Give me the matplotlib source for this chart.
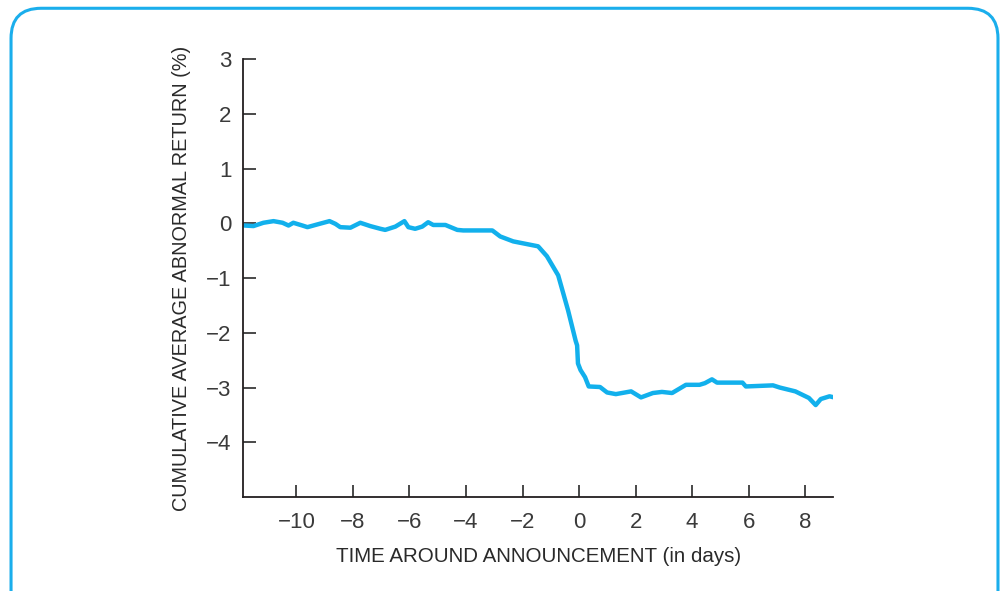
import matplotlib
matplotlib.use("Agg")
import matplotlib.pyplot as plt
from matplotlib.patches import FancyBboxPatch

plt.rcParams['font.family'] = ['Liberation Sans', 'DejaVu Sans']

# cumulative average abnormal return (%)
days = [-11.84, -11.52, -11.17, -10.81, -10.49, -10.28, -10.11, -9.79, -9.61,
        -9.26, -8.83, -8.62, -8.45, -8.09, -7.74, -7.39, -7.03, -6.86, -6.50,
        -6.18, -6.04, -5.80, -5.55, -5.34, -5.16, -4.73, -4.31, -4.10, -3.07,
        -2.79, -2.33, -1.45, -1.14, -0.74, -0.39, -0.12, -0.07, -0.04, 0.05,
        0.21, 0.34, 0.74, 0.99, 1.30, 1.84, 2.19, 2.61, 2.93, 3.29, 3.78, 4.26,
        4.45, 4.70, 4.88, 5.78, 5.90, 6.86, 7.10, 7.65, 8.13, 8.37, 8.55, 8.86,
        9.02]
car = [-0.04, -0.05, 0.01, 0.04, 0.01, -0.04, 0.01, -0.04, -0.07,
       -0.02, 0.04, -0.01, -0.07, -0.08, 0.01, -0.05, -0.10, -0.12, -0.06,
       0.04, -0.07, -0.10, -0.06, 0.02, -0.03, -0.03, -0.12, -0.13, -0.13,
       -0.24, -0.33, -0.42, -0.60, -0.95, -1.59, -2.15, -2.23, -2.56, -2.68,
       -2.81, -2.98, -2.99, -3.09, -3.12, -3.07, -3.18, -3.10, -3.08, -3.10, -2.95, -2.95,
       -2.92, -2.85, -2.91, -2.91, -2.98, -2.96, -3.00, -3.07, -3.19, -3.32, -3.21, -3.16,
       -3.18]

xticks = [-10, -8, -6, -4, -2, 0, 2, 4, 6, 8]
yticks = [-4, -3, -2, -1, 0, 1, 2, 3]

fig = plt.figure(figsize=(10.03, 5.91), dpi=100)

# rounded frame around the figure
frame = FancyBboxPatch((0.011, -0.05), 0.984, 1.036,
                       boxstyle="round,pad=0,rounding_size=0.03",
                       transform=fig.transFigure, fill=False,
                       edgecolor='#1AAEEC', linewidth=2.2, mutation_aspect=1003/591)
fig.patches.append(frame)

ax = fig.add_axes([0.242, 0.159, 0.589, 0.741])
ax.plot(days, car, color='#12B0EC', linewidth=3.2, solid_capstyle='round',
        solid_joinstyle='round')

ax.set_xlim(-11.9, 9.0)
ax.set_ylim(-5, 3)
ax.set_xticks(xticks)
ax.set_yticks(yticks)
ax.spines['top'].set_visible(False)
ax.spines['right'].set_visible(False)
for s in ['left', 'bottom']:
    ax.spines[s].set_linewidth(1.3)
    ax.spines[s].set_color('#231F20')
ax.tick_params(direction='in', length=9, width=1.3, colors='#3a3a3a',
               labelsize=16, pad=8)
ax.tick_params(axis='x', pad=11)

ax.set_xlabel('TIME AROUND ANNOUNCEMENT (in days)', fontsize=14.8,
              color='#2a2a2a', labelpad=10)
ax.set_ylabel('CUMULATIVE AVERAGE ABNORMAL RETURN (%)', fontsize=14.3,
              color='#2a2a2a', labelpad=11)

fig.savefig('out.png', dpi=100)
